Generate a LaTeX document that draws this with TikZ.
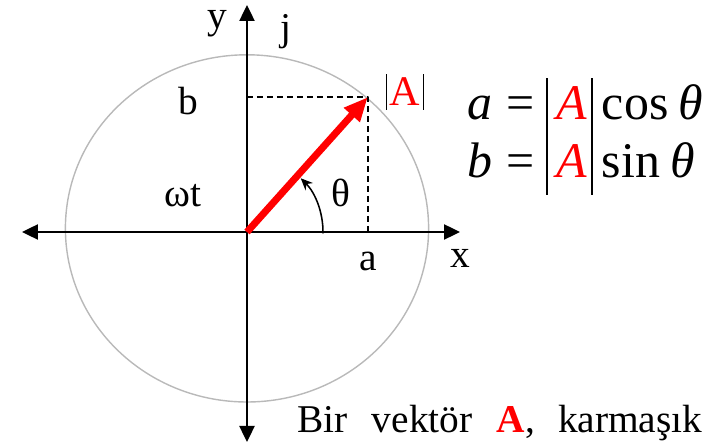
\documentclass[tikz,border=0pt]{standalone}
\usepackage{fontspec}
\setmainfont{Liberation Serif}
\usetikzlibrary{arrows.meta, calc}

% thin tall bar for the modulus signs
\newcommand{\vbar}[2]{\rule[#1]{0.04em}{#2}}

\begin{document}
\begin{tikzpicture}[line join=round, line cap=butt]

		% Parameters
		\def\rX{4.54} % horizontal radius of the circle
		\def\rY{4.34} % vertical radius of the circle
		\clip (-6.175,-5.325) rectangle (11.7,5.8);

		\coordinate (O) at (0,0);
		\coordinate (A) at (3.02,3.37);
		\coordinate (Ay) at (0,3.37);
		\coordinate (Ax) at (3.02,0);

		% 1. Circle of the rotating vector
		\draw[gray!55, line width=1pt] (0,0.09) ellipse ({\rX} and {\rY});

		% 2. Axes with arrows at both ends
		\coordinate (xl) at (-5.625,0);
		\coordinate (xr) at (5.325,0);
		\coordinate (yt) at (0,5.675);
		\coordinate (yb) at (0,-5.25);
		\draw[line width=1.2pt, {Triangle[length=0.4cm,width=0.38cm]}-{Triangle[length=0.4cm,width=0.38cm]}] (xl) -- (xr);
		\draw[line width=1.2pt, {Triangle[length=0.4cm,width=0.38cm]}-{Triangle[length=0.4cm,width=0.38cm]}] (yb) -- (yt);

		% 3. Projections a and b
		\draw[line width=1.1pt, dash pattern=on 4.3pt off 2.8pt] (Ay) -- (A) -- (Ax);

		% 4. The vector A
		\draw[red, line width=5pt, -{Triangle[length=0.6cm,width=0.5cm]}] (O) -- (A);

		% 5. Angle theta
		\draw[line width=1.1pt, -{Stealth[length=0.3cm,width=0.26cm]}] (-1:1.9) arc (-1:45:1.9);

		% 6. Labels
		\begin{scope}[font=\fontsize{28}{30}\selectfont, inner sep=0pt]
		\node (ylab) at (-0.75,5.2) {y};
		\node (jlab) at (0.975,5.0) {j};
		\node (blab) at (-1.475,3.275) {b};
		\node (wtlab) at (-1.6,0.9) {ωt};
		\node (thlab) at (2.35,0.975) {θ};
		\node (alab) at (3.025,-0.725) {a};
		\node (xlab) at (5.325,-0.65) {x};
		\node (Alab) at (3.95,3.5)
			{\fontsize{30}{32}\selectfont\vbar{-0.1em}{0.85em}\hspace{0.06em}\textcolor{red}{A}\hspace{0.06em}\vbar{-0.1em}{0.85em}};
		\node[anchor=base west] (note) at (1.25,-5.025)
			{Bir\hspace{0.62em}vektör\hspace{0.62em}\textcolor{red}{\bfseries A},\hspace{0.58em}karmaşık};
		\end{scope}

		% 7. Components
		\begin{scope}[font=\fontsize{35.5}{38}\selectfont, inner sep=0pt, anchor=base west]
		\node (eqa) at (5.5,2.8)
			{\textit{a}\hspace{0.28em}=\hspace{0.24em}\vbar{-0.34em}{1.18em}\hspace{0.16em}\textcolor{red}{\textit{A}}\hspace{0.08em}\vbar{-0.34em}{1.18em}\hspace{0.18em}cos\hspace{0.2em}\textit{θ}};
		\node (eqb) at (5.5,1.35)
			{\textit{b}\hspace{0.28em}=\hspace{0.24em}\vbar{-0.34em}{1.18em}\hspace{0.16em}\textcolor{red}{\textit{A}}\hspace{0.08em}\vbar{-0.34em}{1.18em}\hspace{0.18em}sin\hspace{0.2em}\textit{θ}};
		\end{scope}

	\end{tikzpicture}
\end{document}
